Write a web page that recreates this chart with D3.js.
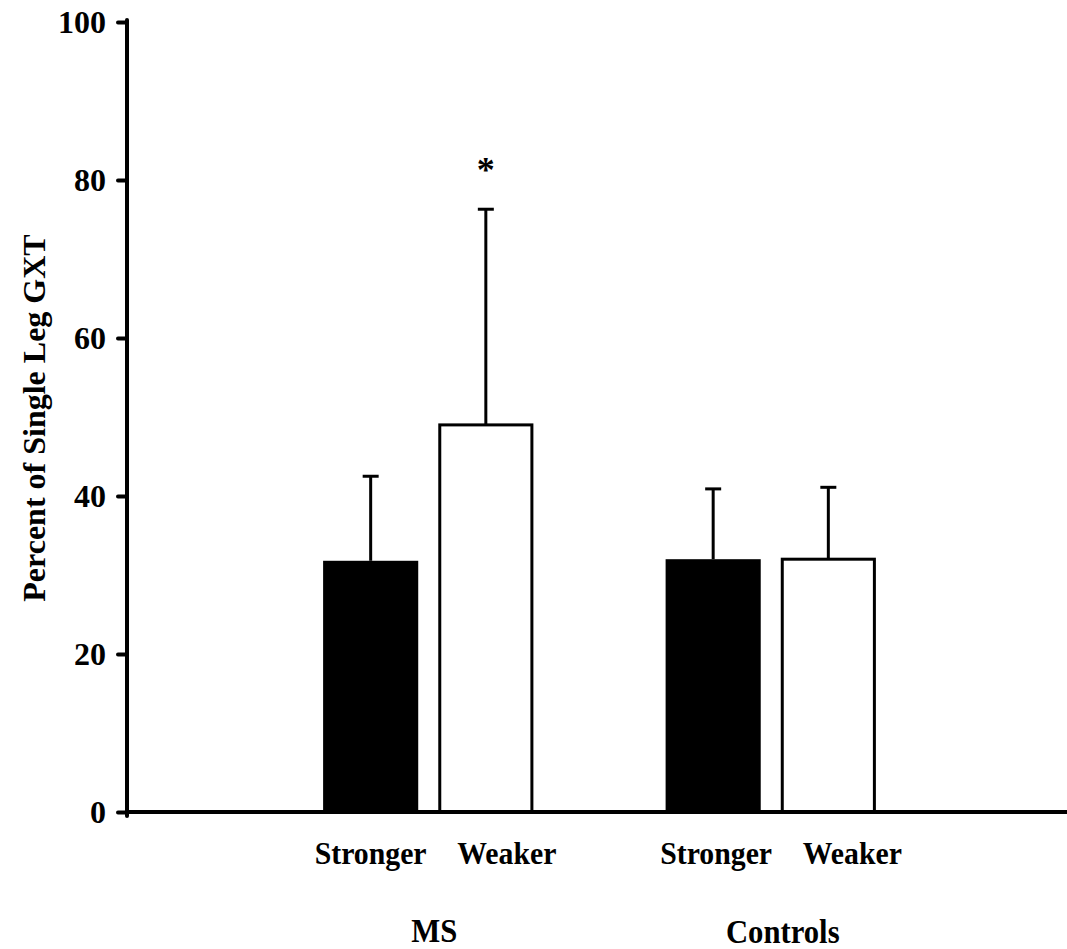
<!DOCTYPE html>
<html>
<head>
<meta charset="utf-8">
<script src="https://cdn.jsdelivr.net/npm/d3@7"></script>
<style>
  body { margin: 0; background: #fff; }
  text { font-family: "Liberation Serif", "Times New Roman", serif; font-weight: bold; fill: #000; }
</style>
</head>
<body>
<div id="chart"></div>
<script>
// data
var groups = ["MS", "Controls"];
var legs = ["Stronger", "Weaker"];
var means = [31.8, 49.0, 32.0, 32.0];     // MS stronger, MS weaker, Controls stronger, Controls weaker
var sds = [10.7, 27.3, 8.9, 9.1];
var yTicks = [0, 20, 40, 60, 80, 100];
var starred = ["MS|Weaker"];

var svgWidth = 1067;
var svgHeight = 949;

var svg = d3.select("#chart")
  .append("svg")
  .attr("width", svgWidth)
  .attr("height", svgHeight);

var rows = [];
groups.forEach(function(g, gi) {
  legs.forEach(function(l, li) {
    var i = gi * legs.length + li;
    rows.push({ group: g, leg: l, mean: means[i], sd: sds[i] });
  });
});

// scales
var yScale = d3.scaleLinear()
  .domain([0, 100])
  .range([812, 22]);

var x0 = d3.scaleBand()
  .domain(groups)
  .range([257, 942]);

var x1 = d3.scaleBand()
  .domain(legs)
  .range([0, x0.bandwidth()])
  .paddingInner(0.174)
  .paddingOuter(0.574);

var xAxisLeft = 127;
var squeeze = 0.93; // the original type is a little narrow

function barMid(d) {
  return x0(d.group) + x1(d.leg) + x1.bandwidth() / 2;
}

// bars
var bars = svg.append("g");
bars.selectAll("rect")
  .data(rows)
  .enter()
  .append("rect")
  .attr("x", d => x0(d.group) + x1(d.leg) + (d.leg === "Weaker" ? 1.5 : 0))
  .attr("y", d => yScale(d.mean))
  .attr("width", d => x1.bandwidth() - (d.leg === "Weaker" ? 3 : 0))
  .attr("height", d => yScale(0) - yScale(d.mean))
  .attr("fill", d => d.leg === "Stronger" ? "#000" : "#fff")
  .attr("stroke", d => d.leg === "Stronger" ? "none" : "#000")
  .attr("stroke-width", 3);

// error bars (upper only)
var errs = svg.append("g")
  .attr("stroke", "#000")
  .attr("stroke-width", 3);

errs.selectAll("line.stem")
  .data(rows)
  .enter()
  .append("line")
  .attr("class", "stem")
  .attr("x1", barMid)
  .attr("x2", barMid)
  .attr("y1", d => yScale(d.mean))
  .attr("y2", d => yScale(d.mean + d.sd));

errs.selectAll("line.cap")
  .data(rows)
  .enter()
  .append("line")
  .attr("class", "cap")
  .attr("x1", d => barMid(d) - 8)
  .attr("x2", d => barMid(d) + 8)
  .attr("y1", d => yScale(d.mean + d.sd))
  .attr("y2", d => yScale(d.mean + d.sd));

// significance mark
svg.selectAll("text.star")
  .data(rows.filter(d => starred.indexOf(d.group + "|" + d.leg) >= 0))
  .enter()
  .append("text")
  .attr("class", "star")
  .attr("x", barMid)
  .attr("y", d => yScale(d.mean + d.sd) - 27)
  .attr("text-anchor", "middle")
  .style("font-size", "36px")
  .text("*");

// y axis
var leftAxis = d3.axisLeft(yScale)
  .tickValues(yTicks)
  .tickSize(9)
  .tickPadding(12)
  .tickSizeOuter(0);

var yAxis = svg.append("g")
  .attr("transform", `translate(${xAxisLeft}, 0)`)
  .call(leftAxis);

yAxis.select(".domain").remove();
yAxis.selectAll(".tick line")
  .attr("stroke", "#000")
  .attr("stroke-width", 4)
  .attr("stroke-linecap", "round");
yAxis.selectAll(".tick text")
  .attr("dy", "0.34em")
  .style("font-size", "32px")
  .style("font-family", "'Liberation Serif', 'Times New Roman', serif")
  .style("font-weight", "bold");

// axis lines
svg.append("line")
  .attr("x1", xAxisLeft)
  .attr("x2", xAxisLeft)
  .attr("y1", yScale(100) - 2)
  .attr("y2", yScale(0) + 4)
  .attr("stroke", "#000")
  .attr("stroke-width", 4)
  .attr("stroke-linecap", "round");

svg.append("line")
  .attr("x1", xAxisLeft)
  .attr("x2", svgWidth)
  .attr("y1", yScale(0))
  .attr("y2", yScale(0))
  .attr("stroke", "#000")
  .attr("stroke-width", 4);

// category labels
var legShift = { "Stronger": 0, "Weaker": 21 };
var groupShift = { "MS": 0, "Controls": 3 };

svg.selectAll("text.leg")
  .data(rows)
  .enter()
  .append("text")
  .attr("class", "leg")
  .attr("transform", d => `translate(${barMid(d) + legShift[d.leg] + groupShift[d.group]}, 864) scale(${squeeze}, 1)`)
  .attr("text-anchor", "middle")
  .style("font-size", "32px")
  .text(d => d.leg);

svg.selectAll("text.group")
  .data(groups)
  .enter()
  .append("text")
  .attr("class", "group")
  .attr("transform", (d, i) => `translate(${x0(d) + x0.bandwidth() / 2 + 6 + i * 6}, ${942 + i})` + ` scale(${squeeze}, 1)`)
  .attr("text-anchor", "middle")
  .style("font-size", "33px")
  .text(d => d);

// y axis title
svg.append("text")
  .attr("transform", "translate(45, 418) rotate(-90)")
  .attr("text-anchor", "middle")
  .style("font-size", "32px")
  .text("Percent of Single Leg GXT");
</script>
</body>
</html>
